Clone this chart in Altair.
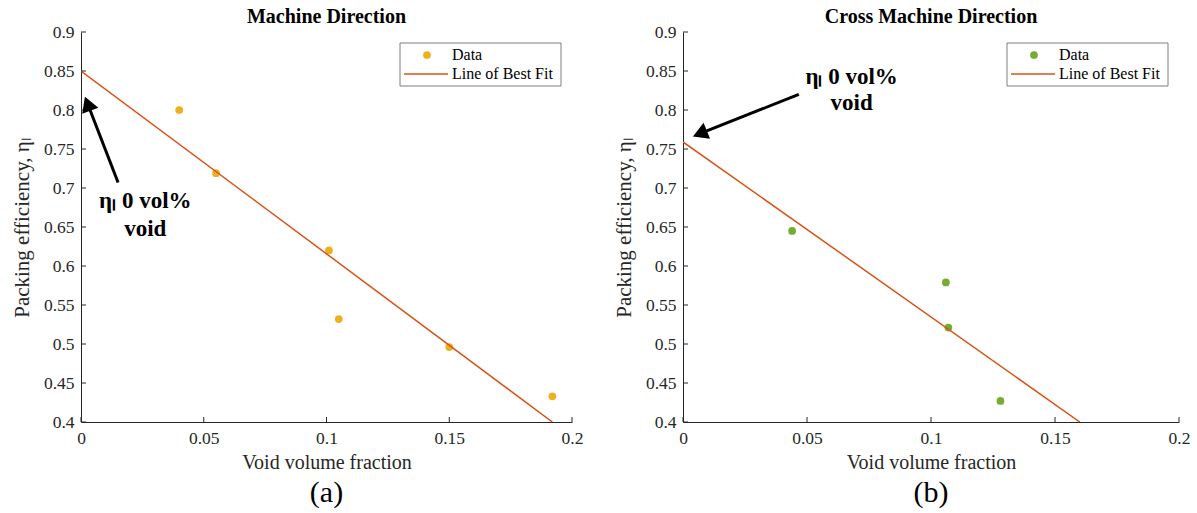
import altair as alt
import pandas as pd

# ---- data ----
md_void = [0.040, 0.055, 0.101, 0.105, 0.150, 0.192]
md_eff = [0.800, 0.719, 0.620, 0.532, 0.496, 0.433]
md_fit_x = [0.0, 0.192]
md_fit_y = [0.850, 0.400]

cmd_void = [0.044, 0.106, 0.107, 0.128]
cmd_eff = [0.645, 0.579, 0.521, 0.427]
cmd_fit_x = [0.0, 0.160]
cmd_fit_y = [0.759, 0.400]

x_ticks = [0, 0.05, 0.1, 0.15, 0.2]
y_ticks = [0.4, 0.45, 0.5, 0.55, 0.6, 0.65, 0.7, 0.75, 0.8, 0.85, 0.9]

# annotation anchors (data coordinates)
md_arrow = dict(x=0.0151, y=0.707, x2=0.0027, y2=0.808, angle=339)
md_text = dict(x=0.0262, y1=0.6837, y2=0.6477)
cmd_arrow = dict(x=0.0467, y=0.820, x2=0.0068, y2=0.7697, angle=248)
cmd_text = dict(x=0.068, y1=0.8425, y2=0.8087)

FONT = "Liberation Serif"
FIT_COLOR = "#D95319"
AX = "#262626"
H = 390


def panel(title, void, eff, fx, fy, color, W, arrow, txt, label):
    xs = alt.Scale(domain=[0, 0.2], nice=False, zero=False)
    ys = alt.Scale(domain=[0.4, 0.9], nice=False, zero=False)
    xa = alt.Axis(title="Void volume fraction", values=x_ticks,
                  labelExpr="'' + datum.value", labelFlush=False,
                  labelOverlap=False, labelPadding=7, titlePadding=6)
    ya = alt.Axis(title="Packing efficiency, ηₗ", values=y_ticks,
                  labelExpr="'' + datum.value", labelFlush=False,
                  labelOverlap=False, labelPadding=7, titlePadding=11,
                  titleFontSize=21)
    pts = pd.DataFrame({"x": void, "y": eff})
    fit = pd.DataFrame({"x": fx, "y": fy})

    def X(f):
        return alt.X(f, scale=xs, axis=xa, title="Void volume fraction")

    def Y(f):
        return alt.Y(f, scale=ys, axis=ya, title="Packing efficiency, ηₗ")

    base_pts = alt.Chart(pts).mark_circle(size=60, color=color, opacity=1).encode(
        x=X("x:Q"), y=Y("y:Q"))
    line = alt.Chart(fit).mark_line(color=FIT_COLOR, strokeWidth=1.5, clip=True).encode(
        x=X("x:Q"), y=Y("y:Q"))

    xt = alt.Chart(pd.DataFrame({"t": x_ticks})).mark_rule(color=AX, strokeWidth=1).encode(
        x=X("t:Q"), y=alt.value(H), y2=alt.value(H - 5))
    yt = alt.Chart(pd.DataFrame({"t": y_ticks})).mark_rule(color=AX, strokeWidth=1).encode(
        y=Y("t:Q"), x=alt.value(0), x2=alt.value(5))

    arr = pd.DataFrame([arrow])
    shaft = alt.Chart(arr).mark_rule(color="black", strokeWidth=3).encode(
        x=X("x:Q"), y=Y("y:Q"), x2="x2:Q", y2="y2:Q")
    head = alt.Chart(arr).mark_point(shape="triangle-up", filled=True, color="black",
                                     size=300, opacity=1, angle=arrow["angle"]).encode(
        x=X("x2:Q"), y=Y("y2:Q"))

    tdf = pd.DataFrame({"x": [txt["x"], txt["x"]], "y": [txt["y1"], txt["y2"]],
                        "s": ["ηₗ 0 vol%", "void"]})
    text = alt.Chart(tdf).mark_text(font=FONT, fontSize=23, fontWeight="bold",
                                    color="black").encode(
        x=X("x:Q"), y=Y("y:Q"), text="s:N")

    # legend box
    lx0, ly0 = W - 172, 11
    one = pd.DataFrame({"a": [0]})
    box = alt.Chart(one).mark_rect(
        fill="white", stroke="#7f7f7f", strokeWidth=1).encode(
        x=alt.value(lx0), x2=alt.value(lx0 + 161), y=alt.value(ly0), y2=alt.value(ly0 + 43))
    ldot = alt.Chart(one).mark_circle(size=60, color=color, opacity=1).encode(
        x=alt.value(lx0 + 27), y=alt.value(ly0 + 12))
    lline = alt.Chart(one).mark_rule(color=FIT_COLOR, strokeWidth=1.5).encode(
        x=alt.value(lx0 + 4), x2=alt.value(lx0 + 48), y=alt.value(ly0 + 31))
    ltxt1 = alt.Chart(pd.DataFrame({"s": ["Data"]})).mark_text(
        font=FONT, fontSize=16, align="left", baseline="middle", color="black").encode(
        x=alt.value(lx0 + 52), y=alt.value(ly0 + 12), text="s:N")
    ltxt2 = alt.Chart(pd.DataFrame({"s": ["Line of Best Fit"]})).mark_text(
        font=FONT, fontSize=16, align="left", baseline="middle", color="black").encode(
        x=alt.value(lx0 + 52), y=alt.value(ly0 + 31), text="s:N")

    sub = alt.Chart(pd.DataFrame({"s": [label]})).mark_text(
        font=FONT, fontSize=30, color="black", baseline="middle").encode(
        x=alt.value(W / 2), y=alt.value(H + 71), text="s:N")

    return alt.layer(base_pts, line, xt, yt, shaft, head, text, box, ldot, lline,
                     ltxt1, ltxt2, sub).properties(
        width=W, height=H,
        title=alt.TitleParams(title, font=FONT, fontSize=20, fontWeight="bold",
                              color="black", offset=-4))


left = panel("Machine Direction", md_void, md_eff, md_fit_x, md_fit_y, "#EDB120", 491,
             md_arrow, md_text, "(a)")
right = panel("Cross Machine Direction", cmd_void, cmd_eff, cmd_fit_x, cmd_fit_y, "#77AC30", 496,
              cmd_arrow, cmd_text, "(b)")

chart = alt.hconcat(left, right, spacing=30).resolve_scale(x="independent", y="independent").configure(
    padding={"left": 11, "top": 7, "right": 5, "bottom": 2},
    font=FONT,
).configure_view(stroke=None).configure_axis(
    domainColor=AX, labelColor=AX, titleColor=AX, labelFont=FONT, titleFont=FONT,
    labelFontSize=17.5, titleFontSize=20, titleFontWeight="normal", grid=False, tickSize=0,
    domainWidth=1,
)

chart.save("out.html", embed_options={"renderer": "svg", "actions": False})
